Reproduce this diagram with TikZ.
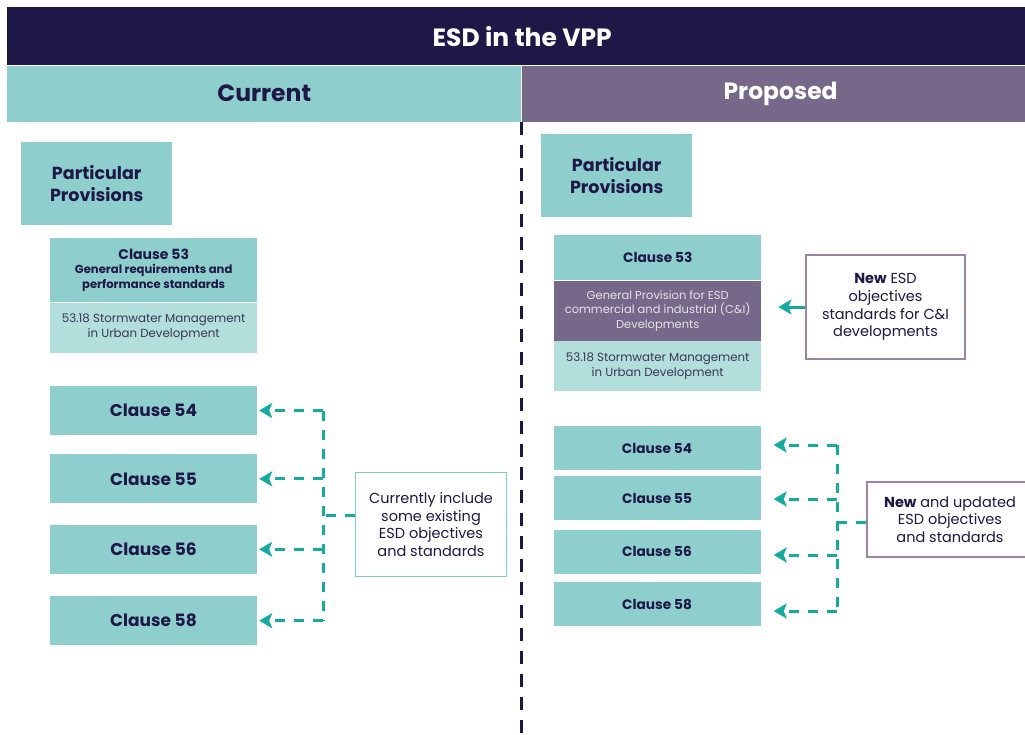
\documentclass[tikz,border=0pt]{standalone}
\usepackage{fontspec}
\setmainfont{Poppins}
\usepackage{xcolor}
\usetikzlibrary{arrows.meta,positioning}

\definecolor{navy}{HTML}{1D1846}
\definecolor{teal}{HTML}{8ECFCE}
\definecolor{paleteal}{HTML}{B2DFDC}
\definecolor{plum}{HTML}{756888}
\definecolor{plumline}{HTML}{9A86A3}
\definecolor{linkteal}{HTML}{17AAA0}
\definecolor{noteteal}{HTML}{7ECAC6}
\definecolor{greytext}{HTML}{3B3656}

\begin{document}
\begin{tikzpicture}[x=1pt,y=-1pt]
	\tikzstyle{band}
	  =[rectangle, inner sep=0pt, minimum height=58pt, anchor=north west]
	\tikzstyle{prov}
	  =[fill=teal, rectangle, inner sep=0pt, minimum width=151pt,
	  minimum height=83pt, text=navy, align=center,
	  font=\bfseries\fontsize{17.5}{22}\selectfont, anchor=north west]
	\tikzstyle{clause}
	  =[fill=teal, rectangle, inner sep=0pt, minimum width=207pt,
	  minimum height=49pt, text=navy, font=\bfseries\fontsize{17}{20}\selectfont]
	\tikzstyle{clause-sm}
	  =[clause, minimum height=44pt, font=\bfseries\fontsize{13.7}{16}\selectfont]
	\tikzstyle{sub}
	  =[rectangle, inner sep=0pt, minimum width=207pt, align=center,
	  text=greytext, font=\fontsize{11.8}{15}\selectfont]
	\tikzstyle{note}
	  =[draw, fill=white, rectangle, line width=1.5pt, inner sep=0pt,
	  align=center, text=navy, font=\fontsize{14.5}{17.7}\selectfont]
	\tikzstyle{link}
	  =[linkteal, line width=3pt, dash pattern=on 10pt off 9pt]
	\tikzstyle{tip}
	  =[-{Stealth[length=13pt,width=15pt,inset=3pt]}]

	\useasboundingbox (0,0) rectangle (1025,734);
	\clip (0,0) rectangle (1025,734);
	\fill[white] (0,0) rectangle (1025,734);

	% header bands
	\node[band, fill=navy, text=white, minimum width=1030pt,
	  font=\bfseries\fontsize{25}{28}\selectfont] (head) at (7,7) {ESD in the VPP};
	\node[band, fill=teal, text=navy, minimum width=514pt, minimum height=56pt,
	  font=\bfseries\fontsize{23.5}{26}\selectfont] (cur)
	  at (head.south west) {Current};
	\node[band, fill=plum, text=white, minimum width=518pt, minimum height=56pt,
	  font=\bfseries\fontsize{23.5}{26}\selectfont] (prop)
	  at (cur.north east) {Proposed};

	% divider
	\draw[navy, line width=3.2pt, dash pattern=on 13pt off 10pt]
	  (cur.south east) -- (cur.east |- 0,734);

	% current side
	\node[prov] (pp1) at (21,142) {Particular\\Provisions};
	\node[clause, minimum height=64pt, anchor=north west, align=center,
	  font=\bfseries\fontsize{11.6}{14.5}\selectfont] (c53)
	  at (50,238) {{\fontsize{14}{15}\selectfont Clause 53}\\General requirements and\\performance standards};
	\node[sub, fill=paleteal, minimum height=50pt] (c53s)
	  [below=0pt of c53] {53.18 Stormwater Management\\in Urban Development};
	\node[clause] (c54) at (153.5,410.5) {Clause 54};
	\node[clause] (c55) [below=19pt of c54] {Clause 55};
	\node[clause] (c56) [below=21pt of c55] {Clause 56};
	\node[clause] (c58) [below=22pt of c56] {Clause 58};

	\node[note, draw=noteteal, minimum width=151pt, minimum height=104pt] (n1)
	  at (431,524.5) {Currently include\\some existing\\ESD objectives\\and standards};
	\coordinate (busL) at (323,515);
	\draw[link] (busL |- c54.east) -- (busL |- c58.east);
	\draw[link] (n1.west |- busL) -- (busL);
	\foreach \c in {c54,c55,c56,c58}
	  \draw[link, tip, shorten >=2pt] (busL |- \c.east) -- (\c.east);

	% proposed side
	\node[prov] (pp2) at (541,134) {Particular\\Provisions};
	\node[clause-sm, minimum height=45pt, anchor=north west] (r53)
	  at (554,235) {Clause 53};
	\node[sub, fill=plum, text=white!82!plum, minimum height=60pt,
	  font=\fontsize{11.5}{14.5}\selectfont] (r53g)
	  [below=0pt of r53] {General Provision for ESD\\commercial and industrial (C\&I)\\Developments};
	\node[sub, fill=paleteal, minimum height=50pt] (r53s)
	  [below=0pt of r53g] {53.18 Stormwater Management\\in Urban Development};
	\node[note, draw=plumline, minimum width=159pt, minimum height=104pt] (n2)
	  at (885.5,307) {\textbf{New} ESD\\objectives\\standards for C\&I\\developments};
	\draw[linkteal, line width=3pt, tip, shorten >=17pt] (n2.west) -- (n2.west -| r53g.east);

	\node[clause-sm] (r54) at (657,448) {Clause 54};
	\node[clause-sm] (r55) [below=6pt of r54] {Clause 55};
	\node[clause-sm] (r56) [below=9pt of r55] {Clause 56};
	\node[clause-sm] (r58) [below=8pt of r56] {Clause 58};

	\node[note, draw=plumline, minimum width=166pt, minimum height=75pt] (n3)
	  at (950,519.5) {\textbf{New} and updated\\ESD objectives\\and standards};
	\coordinate (busR) at (837,522);
	\coordinate (a54) at (837,445);
	\coordinate (a55) at (837,499);
	\coordinate (a56) at (837,555);
	\coordinate (a58) at (837,611);
	\draw[link] (a54) -- (a58);
	\draw[link] (n3.west |- busR) -- (busR);
	\draw[link, tip, shorten >=13pt] (a54) -- (a54 -| r54.east);
	\draw[link, tip, shorten >=13pt] (a55) -- (a55 -| r55.east);
	\draw[link, tip, shorten >=13pt] (a56) -- (a56 -| r56.east);
	\draw[link, tip, shorten >=13pt] (a58) -- (a58 -| r58.east);
\end{tikzpicture}
\end{document}
